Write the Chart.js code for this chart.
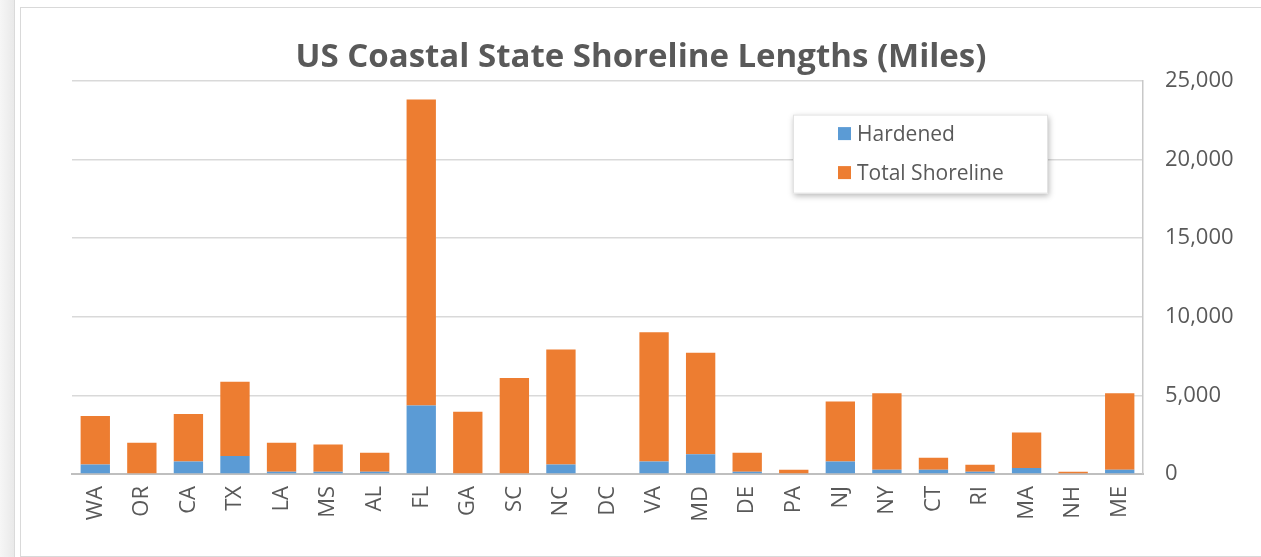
<!DOCTYPE html>
<html>
<head>
<meta charset="utf-8">
<script src="https://cdn.jsdelivr.net/npm/chart.js@4"></script>
<style>
  html, body { margin: 0; padding: 0; background: #fff; overflow: hidden; }
  #strip {
    position: absolute; left: 0; top: 0; width: 14px; height: 557px;
    background: linear-gradient(to right, #f6f6f6, #e9e9e9);
    border-right: 1px solid #dadada;
  }
  #box {
    position: absolute; left: 20px; top: 7px; width: 1245px; height: 548px;
    border: 1px solid #d9d9d9;
  }
  #box canvas { display: block; }
</style>
</head>
<body>
<div id="strip"></div>
<div id="box"><canvas id="grafico" width="1240" height="548"></canvas></div>
<script>
const states = ["WA", "OR", "CA", "TX", "LA", "MS", "AL", "FL", "GA", "SC", "NC", "DC",
  "VA", "MD", "DE", "PA", "NJ", "NY", "CT", "RI", "MA", "NH", "ME"];
const hardened = [600, 0, 800, 1140, 150, 150, 150, 4350, 0, 0, 600, 0,
  800, 1250, 150, 50, 800, 270, 270, 150, 380, 50, 270];
const totalShoreline = [3090, 1980, 3020, 4730, 1830, 1730, 1200, 19450, 3950, 6100, 7310, 0,
  8210, 6450, 1200, 220, 3800, 4860, 760, 440, 2260, 100, 4860];
const yTicks = [0, 5000, 10000, 15000, 20000, 25000];

const gris = "#595959";
const fuente = "'Open Sans', 'Liberation Sans', sans-serif";

// leyenda dentro del area del grafico, con sombra como en Excel
const leyendaCaja = {
  id: "leyendaCaja",
  afterDatasetsDraw(chart) {
    const ctx = chart.ctx;
    const a = chart.chartArea;
    const x = a.right - 350, y = a.top + 34, w = 255, h = 79;
    ctx.save();
    ctx.shadowColor = "rgba(0,0,0,0.28)";
    ctx.shadowBlur = 6;
    ctx.shadowOffsetX = 1;
    ctx.shadowOffsetY = 2;
    ctx.fillStyle = "#fff";
    ctx.fillRect(x, y, w, h);
    ctx.restore();
    ctx.save();
    ctx.strokeStyle = "#e3e3e3";
    ctx.strokeRect(x + 0.5, y + 0.5, w - 1, h - 1);
    ctx.font = "21px " + fuente;
    ctx.textBaseline = "middle";
    chart.data.datasets.forEach((ds, i) => {
      const cy = y + 19 + i * 39;
      ctx.fillStyle = ds.backgroundColor;
      ctx.fillRect(x + 45, cy - 6.5, 13, 13);
      ctx.fillStyle = gris;
      ctx.fillText(ds.label, x + 64, cy + 1);
    });
    ctx.restore();
  },
};

new Chart(document.getElementById("grafico"), {
  type: "bar",
  data: {
    labels: states,
    datasets: [
      {
        label: "Hardened",
        data: hardened,
        backgroundColor: "#5B9BD5",
        categoryPercentage: 1,
        barPercentage: 0.63,
      },
      {
        label: "Total Shoreline",
        data: totalShoreline,
        backgroundColor: "#ED7D31",
        categoryPercentage: 1,
        barPercentage: 0.63,
      },
    ],
  },
  options: {
    responsive: false,
    animation: false,
    layout: { padding: 0 },
    plugins: {
      legend: { display: false },
      tooltip: { enabled: false },
      title: {
        display: true,
        text: "US Coastal State Shoreline Lengths (Miles)",
        color: gris,
        font: { family: fuente, size: 33, weight: "bold" },
        padding: { top: 30, bottom: 3 },
      },
    },
    scales: {
      x: {
        stacked: true,
        grid: { display: false, drawTicks: false },
        border: { display: true, color: "#bfbfbf", width: 2 },
        ticks: {
          color: gris,
          font: { family: fuente, size: 22 },
          minRotation: 90,
          maxRotation: 90,
          padding: 12,
          autoSkip: false,
        },
        afterFit(scale) {
          scale.height = 82;
        },
      },
      y: {
        stacked: true,
        position: "right",
        min: 0,
        max: 25000,
        afterBuildTicks(scale) {
          scale.ticks = yTicks.map((v) => ({ value: v }));
        },
        grid: { color: "#d9d9d9", drawTicks: false, lineWidth: 1.5 },
        border: { display: true, color: "#c8c8c8", width: 1.5 },
        ticks: {
          color: gris,
          font: { family: fuente, size: 22 },
          padding: 22,
          callback: (v) => v.toLocaleString("en-US"),
        },
        afterFit(scale) {
          scale.width = 118;
        },
      },
      // eje vacio a la izquierda solo para reservar el margen (asi el titulo queda centrado)
      margen: {
        type: "linear",
        position: "left",
        grid: { display: false, drawTicks: false },
        border: { display: false },
        ticks: { display: false },
        afterFit(scale) {
          scale.width = 51;
        },
      },
    },
  },
  plugins: [leyendaCaja],
});
</script>
</body>
</html>
